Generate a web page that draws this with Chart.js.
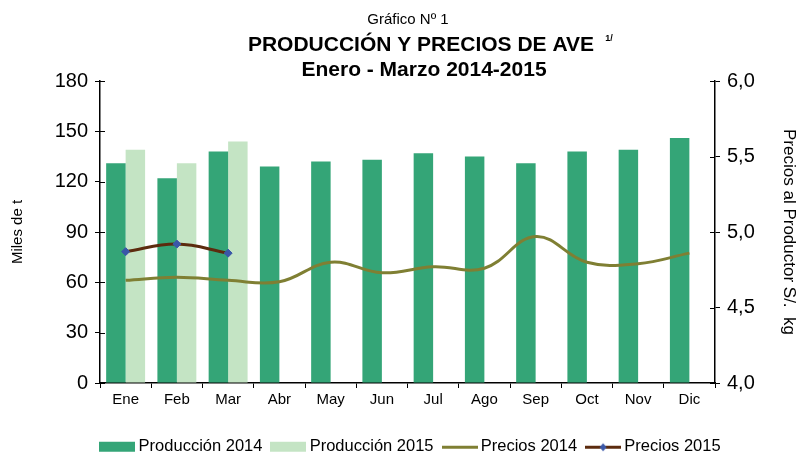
<!DOCTYPE html>
<html>
<head>
<meta charset="utf-8">
<script src="https://cdn.jsdelivr.net/npm/chart.js@4"></script>
<style>
  html, body { margin: 0; padding: 0; background: #fff; }
</style>
</head>
<body>
<canvas id="chart" width="799" height="455"></canvas>
<script>
const months = ["Ene", "Feb", "Mar", "Abr", "May", "Jun", "Jul", "Ago", "Sep", "Oct", "Nov", "Dic"];
const prod2014 = [131, 122, 138, 129, 132, 133, 137, 135, 131, 138, 139, 146];
const prod2015 = [139, 131, 144, null, null, null, null, null, null, null, null, null];
const precios2014 = [4.68, 4.70, 4.68, 4.67, 4.80, 4.73, 4.77, 4.76, 4.97, 4.80, 4.79, 4.86];
const precios2015 = [4.87, 4.92, 4.86, null, null, null, null, null, null, null, null, null];
const seriesNames = ["Producción 2014", "Producción 2015", "Precios 2014", "Precios 2015"];

const FONT = "'Liberation Sans', Arial, sans-serif";
const GREEN = "#34a577";
const LIGHT = "#c4e4c4";
const OLIVE = "#7f7f33";
const BROWN = "#5c2b0e";
const BLUE = "#3a57a8";

// small canvases used as legend symbols
function symbol(draw) {
    const c = document.createElement("canvas");
    c.width = 36;
    c.height = 12;
    draw(c.getContext("2d"));
    return c;
}
const legendSymbols = [
    symbol(g => { g.fillStyle = GREEN; g.fillRect(0, 1, 36, 10); }),
    symbol(g => { g.fillStyle = LIGHT; g.fillRect(0, 1, 36, 10); }),
    symbol(g => { g.fillStyle = OLIVE; g.fillRect(0, 5, 36, 3); }),
    symbol(g => {
        g.fillStyle = BROWN; g.fillRect(0, 5, 36, 3);
        g.fillStyle = BLUE; g.beginPath();
        g.moveTo(18, 2.5); g.lineTo(21.5, 6.5); g.lineTo(18, 10.5); g.lineTo(14.5, 6.5);
        g.closePath(); g.fill();
    }),
];

// titles on top of the chart
const titlePlugin = {
    id: "titles",
    afterDraw(chart) {
        const ctx = chart.ctx;
        ctx.save();
        ctx.fillStyle = "#000";
        ctx.textAlign = "center";
        ctx.textBaseline = "middle";
        ctx.font = "15px " + FONT;
        ctx.fillText("Gráfico Nº 1", 408, 20);
        ctx.font = "bold 21px " + FONT;
        ctx.fillText("PRODUCCIÓN Y PRECIOS DE AVE", 421, 45);
        ctx.fillText("Enero - Marzo 2014-2015", 424, 70);
        ctx.font = "bold 9px " + FONT;
        ctx.fillText("1/", 609, 39);
        ctx.restore();
    },
};

// tick marks crossing to the inside of both value axes
const innerTicks = {
    id: "innerTicks",
    afterDraw(chart) {
        const ctx = chart.ctx;
        const area = chart.chartArea;
        ctx.save();
        ctx.strokeStyle = "#000";
        ctx.lineWidth = 1;
        chart.scales.y.ticks.forEach(t => {
            const py = Math.round(chart.scales.y.getPixelForValue(t.value)) + 0.5;
            ctx.beginPath(); ctx.moveTo(area.left, py); ctx.lineTo(area.left + 5, py); ctx.stroke();
        });
        chart.scales.y1.ticks.forEach(t => {
            const py = Math.round(chart.scales.y1.getPixelForValue(t.value)) + 0.5;
            ctx.beginPath(); ctx.moveTo(area.right - 5, py); ctx.lineTo(area.right, py); ctx.stroke();
        });
        ctx.restore();
    },
};

Chart.defaults.font.family = FONT;
Chart.defaults.color = "#000";

new Chart(document.getElementById("chart"), {
    type: "bar",
    data: {
        labels: months,
        datasets: [
            {
                label: seriesNames[0],
                data: prod2014,
                backgroundColor: GREEN,
                categoryPercentage: 0.76,
                barPercentage: 1,
                yAxisID: "y",
                order: 3,
            },
            {
                label: seriesNames[1],
                data: prod2015,
                backgroundColor: LIGHT,
                categoryPercentage: 0.76,
                barPercentage: 1,
                yAxisID: "y",
                order: 3,
            },
            {
                type: "line",
                label: seriesNames[2],
                data: precios2014,
                borderColor: OLIVE,
                backgroundColor: OLIVE,
                borderWidth: 3,
                pointRadius: 0,
                tension: 0.4,
                yAxisID: "y1",
                order: 2,
            },
            {
                type: "line",
                label: seriesNames[3],
                data: precios2015,
                borderColor: BROWN,
                backgroundColor: BLUE,
                borderWidth: 3,
                pointStyle: "rectRot",
                pointRadius: 4,
                pointBackgroundColor: BLUE,
                pointBorderColor: BLUE,
                pointBorderWidth: 1,
                tension: 0.4,
                yAxisID: "y1",
                order: 1,
            },
        ],
    },
    options: {
        responsive: false,
        animation: false,
        devicePixelRatio: 1,
        layout: { padding: { top: 81, bottom: -10, left: 26, right: 0 } },
        plugins: {
            tooltip: { enabled: false },
            legend: {
                position: "bottom",
                labels: {
                    font: { size: 16.5 },
                    usePointStyle: true,
                    pointStyleWidth: 26,
                    boxHeight: 12,
                    padding: 13,
                    sort: (a, b) => a.datasetIndex - b.datasetIndex,
                    generateLabels(chart) {
                        const items = Chart.defaults.plugins.legend.labels.generateLabels(chart);
                        items.forEach(it => { it.pointStyle = legendSymbols[it.datasetIndex]; });
                        return items;
                    },
                },
            },
        },
        scales: {
            x: {
                grid: { drawOnChartArea: false, tickLength: 5, color: "#000", offset: true },
                border: { color: "#000", width: 1.5 },
                ticks: { font: { size: 15 }, padding: 3 },
                afterFit(scale) { scale.height = 42.5; },
            },
            y: {
                position: "left",
                min: 0,
                max: 180,
                ticks: { stepSize: 30, font: { size: 20 }, padding: 7 },
                grid: { drawOnChartArea: false, tickLength: 5, color: "#000" },
                border: { color: "#000", width: 1.5 },
                title: { display: true, text: "Miles de t", font: { size: 15 }, padding: { top: -17, bottom: 0 } },
                afterFit(scale) { scale.width = 74; },
            },
            y1: {
                position: "right",
                min: 4,
                max: 6,
                ticks: {
                    stepSize: 0.5,
                    font: { size: 20 },
                    padding: 7,
                    callback: v => v.toFixed(1).replace(".", ","),
                },
                grid: { drawOnChartArea: false, tickLength: 5, color: "#000" },
                border: { color: "#000", width: 1.5 },
                title: { display: true, text: "Precios al Productor S/.  kg", font: { size: 17 }, padding: { top: 0, bottom: 0 } },
                afterFit(scale) { scale.width = 84; },
            },
        },
    },
    plugins: [titlePlugin, innerTicks],
});
</script>
</body>
</html>
